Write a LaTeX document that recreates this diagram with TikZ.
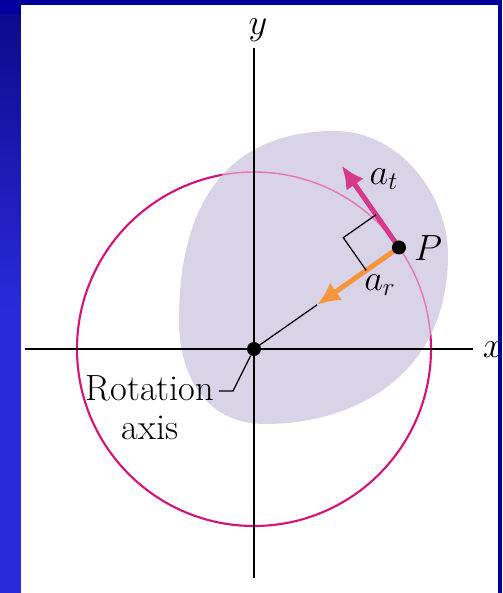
\documentclass[tikz,border=0pt]{standalone}
\usepackage{xcolor}
\usepackage{amsmath}
\usepackage{tikz}
\usetikzlibrary{arrows.meta, calc}

\definecolor{ringmag}{RGB}{212,18,120}
\definecolor{ringpale}{RGB}{232,116,180}
\definecolor{bodylav}{RGB}{216,211,230}
\definecolor{atmag}{RGB}{214,56,140}
\definecolor{arorg}{RGB}{247,148,62}
\definecolor{framedark}{RGB}{0,0,156}
\definecolor{frametop}{RGB}{12,10,140}
\definecolor{framelow}{RGB}{42,42,218}

% outline of the rigid body
\newcommand{\bodyoutline}{(1.62,4.36)
  .. controls (2.92,4.36) and (3.88,3.08) .. (3.88,1.88)
  .. controls (3.88,-0.52) and (2.02,-1.50) .. (0.22,-1.50)
  .. controls (-0.98,-1.50) and (-1.50,-0.52) .. (-1.50,0.58)
  .. controls (-1.50,2.98) and (-0.48,4.36) .. (1.62,4.36) -- cycle}

\begin{document}
\begin{tikzpicture}[
    axis/.style={line width=1pt, black},
    ring/.style={line width=1.2pt, ringmag},
    ringin/.style={line width=0.8pt, ringpale},
    body/.style={fill=bodylav},
    dot/.style={circle, fill=black, inner sep=0pt, minimum size=0.28cm},
    tarr/.style={-{Latex[length=4.6mm, width=4.2mm]}, line width=0.1cm, atmag},
    rarr/.style={-{Latex[length=4.6mm, width=4.2mm]}, line width=0.1cm, arorg},
    guide/.style={line width=0.7pt, black},
    lbl/.style={font=\huge}]
  % frame
  \useasboundingbox (-5.08,-4.88) rectangle (4.96,6.98);
  \fill[framedark] (-5.08,-4.88) rectangle (4.96,6.98);
  \shade[top color=frametop, bottom color=framelow] (-5.08,6.68) rectangle (-4.66,0.78);
  \fill[framelow] (-5.08,0.78) rectangle (-4.66,-4.88);
  \fill[white] (-4.66,-4.88) rectangle (4.88,6.88);
  % circle and body
  \coordinate (O) at (0,0);
  \coordinate (P) at (35:3.54);
  \draw[ring] (O) circle (3.54);
  \fill[body] \bodyoutline;
  \begin{scope}
    \clip \bodyoutline;
    \draw[ringin] (O) circle (3.54);
  \end{scope}
  % axes
  \coordinate (ytop) at (0,6.02);
  \coordinate (ybot) at (0,-4.58);
  \coordinate (xleft) at (-4.58,0);
  \coordinate (xright) at (4.38,0);
  \draw[axis] (ybot) -- (ytop);
  \draw[axis] (xleft) -- (xright);
  \node[lbl] (ylab) at (0.08,6.38) {$y$};
  \node[lbl] (xlab) at (4.78,-0.02) {$x$};
  % accelerations
  \coordinate (attip) at ($(P)+(125:2)$);
  \coordinate (artip) at ($(P)+(215:2)$);
  \draw[guide] (artip) -- (O);
  \draw[tarr] (P) -- (attip);
  \draw[rarr] (P) -- (artip);
  \draw[guide] ($(P)+(125:0.8)$) -- ($(P)+(125:0.8)+(215:0.8)$) -- ($(P)+(215:0.8)$);
  \node[dot] (Pdot) at (P) {};
  \node[dot] (Odot) at (O) {};
  \node[lbl] (atlab) at (2.60,3.40) {$a_t$};
  \node[lbl] (Plab) at (3.48,2.02) {$P$};
  \node[lbl] (arlab) at (2.52,1.28) {$a_r$};
  % rotation axis label
  \node[lbl] (rotlab) at (-2.08,-0.78) {Rotation};
  \node[lbl] (axislab) at (-2.08,-1.58) {axis};
  \coordinate (lead) at (-0.70,-0.84);
  \draw[guide] (lead) -- ++(0.28,0) -- (Odot);
  % right edge of frame
  \fill[framedark] (4.88,-4.88) rectangle (4.96,6.98);
\end{tikzpicture}
\end{document}
